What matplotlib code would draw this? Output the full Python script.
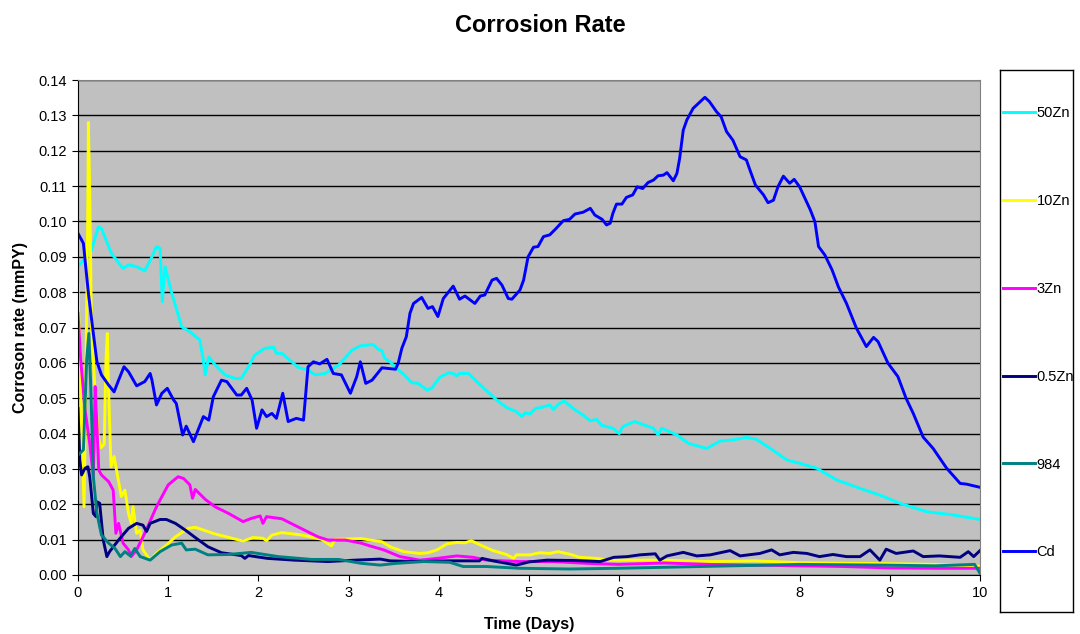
import numpy as np
import matplotlib
matplotlib.use("Agg")
import matplotlib.pyplot as plt

plt.rcParams['font.family'] = ['Liberation Sans', 'DejaVu Sans']

# ---- data (days, mmPY) ----
zn50_days = [0, 0.15, 0.225, 0.26, 0.37, 0.43, 0.50, 0.56, 0.65, 0.74, 0.82, 0.87, 0.91, 0.935, 0.965,
             1.04, 1.15, 1.24, 1.35, 1.39, 1.41, 1.45, 1.52, 1.63, 1.74, 1.81, 1.89, 1.96, 2.07, 2.17,
             2.20, 2.26, 2.37, 2.44, 2.55, 2.63, 2.74, 2.89, 3.04, 3.13, 3.27, 3.33, 3.37, 3.40, 3.46,
             3.53, 3.61, 3.70, 3.77, 3.87, 3.92, 4.01, 4.11, 4.16, 4.20, 4.23, 4.33, 4.42, 4.53, 4.64,
             4.75, 4.86, 4.92, 4.96, 5.01, 5.07, 5.14, 5.23, 5.27, 5.33, 5.39, 5.49, 5.60, 5.68, 5.75,
             5.80, 5.93, 6.0, 6.04, 6.17, 6.38, 6.43, 6.47, 6.64, 6.77, 6.97, 7.12, 7.26, 7.41, 7.52,
             7.71, 7.86, 8.0, 8.19, 8.41, 8.67, 8.89, 9.11, 9.41, 9.7, 10.0]
zn50_vals = [0.0872, 0.0919, 0.0985, 0.098, 0.091, 0.089, 0.0867, 0.0877, 0.0872, 0.086, 0.090, 0.0929,
             0.0924, 0.0773, 0.0872, 0.0797, 0.0702, 0.0688, 0.0665, 0.0608, 0.0566, 0.0617, 0.0594,
             0.0566, 0.0556, 0.0556, 0.0589, 0.0622, 0.0641, 0.0644, 0.0627, 0.0627, 0.0603, 0.0587,
             0.058, 0.0566, 0.057, 0.0594, 0.0636, 0.0648, 0.0652, 0.0638, 0.0634, 0.0613, 0.0603,
             0.0584, 0.0568, 0.0544, 0.0542, 0.0523, 0.0528, 0.0559, 0.0572, 0.057, 0.0563, 0.057,
             0.057, 0.0547, 0.0521, 0.0495, 0.0474, 0.0462, 0.0448, 0.0459, 0.0455, 0.0471, 0.0474,
             0.0481, 0.0468, 0.0484, 0.0492, 0.0471, 0.0452, 0.0436, 0.044, 0.0424, 0.0415, 0.040,
             0.042, 0.0434, 0.0415, 0.0396, 0.0415, 0.0396, 0.0372, 0.0358, 0.0379, 0.0382, 0.0389,
             0.0384, 0.0352, 0.0325, 0.0316, 0.0302, 0.0269, 0.0245, 0.0226, 0.0203, 0.0179, 0.0170,
             0.0157]

zn10_days = [0, 0.02, 0.04, 0.067, 0.085, 0.107, 0.115, 0.13, 0.15, 0.19, 0.225, 0.255, 0.29, 0.31,
             0.325, 0.34, 0.366, 0.40, 0.44, 0.48, 0.52, 0.56, 0.59, 0.61, 0.65, 0.69, 0.72, 0.80,
             0.85, 0.96, 1.08, 1.22, 1.30, 1.52, 1.83, 1.94, 2.05, 2.09, 2.15, 2.26, 2.48, 2.70, 2.81,
             2.85, 3.14, 3.24, 3.37, 3.46, 3.61, 3.79, 3.88, 3.98, 4.09, 4.20, 4.29, 4.36, 4.46, 4.60,
             4.75, 4.83, 4.86, 5.01, 5.12, 5.23, 5.32, 5.45, 5.56, 5.75, 5.90, 6.5, 7.0, 7.5, 8.0,
             8.5, 9.0, 9.5, 10.0]
zn10_vals = [0.0825, 0.0608, 0.042, 0.0193, 0.0514, 0.0985, 0.128, 0.108, 0.070, 0.0514, 0.039, 0.036,
             0.037, 0.0608, 0.0683, 0.0514, 0.0306, 0.0335, 0.0278, 0.0222, 0.024, 0.0174, 0.0146,
             0.0193, 0.0118, 0.0127, 0.0071, 0.0042, 0.0057, 0.008, 0.0108, 0.0132, 0.0135, 0.0116,
             0.0096, 0.0106, 0.0104, 0.0097, 0.0113, 0.012, 0.0113, 0.0101, 0.0082, 0.0101, 0.0103,
             0.0099, 0.0094, 0.008, 0.0066, 0.0061, 0.0063, 0.0071, 0.0088, 0.0092, 0.0091, 0.0097,
             0.0085, 0.0069, 0.0058, 0.0047, 0.0057, 0.0057, 0.0063, 0.0061, 0.0066, 0.0059, 0.005,
             0.0047, 0.0042, 0.0042, 0.0038, 0.0040, 0.0035, 0.0033, 0.0032, 0.003, 0.0025]

zn3_days = [0, 0.03, 0.078, 0.13, 0.17, 0.19, 0.21, 0.23, 0.26, 0.34, 0.39, 0.42, 0.45, 0.50, 0.56,
            0.59, 0.65, 0.74, 0.87, 1.00, 1.11, 1.17, 1.24, 1.27, 1.30, 1.41, 1.52, 1.67, 1.83, 1.92,
            2.02, 2.05, 2.09, 2.26, 2.40, 2.66, 2.77, 2.96, 3.14, 3.24, 3.39, 3.57, 3.79, 3.98, 4.20,
            4.38, 4.53, 4.90, 5.27, 5.64, 5.99, 6.5, 7.0, 7.5, 8.0, 8.5, 9.0, 9.5, 10.0]
zn3_vals = [0.074, 0.0608, 0.0467, 0.0372, 0.0278, 0.0533, 0.042, 0.0297, 0.0283, 0.0264, 0.024,
            0.0118, 0.0146, 0.009, 0.0071, 0.0052, 0.0071, 0.0118, 0.0193, 0.0255, 0.0278, 0.0273,
            0.0255, 0.0217, 0.0242, 0.0214, 0.0193, 0.0174, 0.0151, 0.016, 0.0167, 0.0146, 0.0165,
            0.0159, 0.0141, 0.0108, 0.0099, 0.0099, 0.009, 0.0082, 0.0071, 0.0052, 0.0042, 0.0047,
            0.0054, 0.005, 0.0042, 0.0038, 0.0038, 0.0033, 0.0030, 0.0034, 0.0030, 0.0028, 0.0026,
            0.0024, 0.0020, 0.0019, 0.0019]

zn05_days = [0, 0.02, 0.04, 0.078, 0.11, 0.13, 0.17, 0.20, 0.21, 0.24, 0.28, 0.32, 0.35, 0.45, 0.56,
             0.65, 0.72, 0.76, 0.80, 0.91, 0.98, 1.08, 1.19, 1.30, 1.44, 1.59, 1.81, 1.85, 1.89, 2.1,
             2.4, 2.77, 3.07, 3.35, 3.46, 3.8, 4.1, 4.45, 4.48, 4.6, 4.86, 5.0, 5.2, 5.5, 5.79, 5.94,
             6.09, 6.23, 6.40, 6.45, 6.53, 6.71, 6.86, 7.01, 7.23, 7.34, 7.56, 7.69, 7.78, 7.93, 8.08,
             8.22, 8.37, 8.52, 8.67, 8.78, 8.89, 8.96, 9.07, 9.26, 9.37, 9.55, 9.78, 9.87, 9.93, 10.0]
zn05_vals = [0.0471, 0.0325, 0.0283, 0.0302, 0.0306, 0.0278, 0.0174, 0.0165, 0.0207, 0.0203, 0.0099,
             0.0052, 0.0066, 0.0099, 0.0132, 0.0146, 0.0141, 0.0123, 0.0146, 0.0157, 0.0157, 0.0146,
             0.0127, 0.0106, 0.008, 0.0063, 0.0055, 0.0047, 0.0055, 0.0047, 0.0042, 0.0038, 0.0042,
             0.0045, 0.004, 0.0038, 0.0040, 0.0040, 0.0047, 0.0040, 0.0028, 0.0037, 0.0042, 0.0041,
             0.0038, 0.005, 0.0052, 0.0057, 0.006, 0.0042, 0.0054, 0.0064, 0.0054, 0.0057, 0.0069,
             0.0054, 0.0061, 0.0071, 0.0057, 0.0064, 0.0061, 0.0052, 0.0058, 0.0052, 0.0052, 0.0071,
             0.0042, 0.0073, 0.0061, 0.0068, 0.0052, 0.0054, 0.005, 0.0066, 0.0052, 0.0069]

a984_days = [0, 0.06, 0.096, 0.12, 0.144, 0.17, 0.21, 0.26, 0.34, 0.41, 0.47, 0.52, 0.58, 0.63, 0.69,
             0.80, 0.91, 1.04, 1.15, 1.20, 1.30, 1.44, 1.67, 1.92, 2.22, 2.59, 2.89, 3.14, 3.35, 3.53,
             3.83, 4.12, 4.27, 4.53, 4.90, 5.45, 5.99, 6.9, 8.0, 8.93, 9.5, 9.94, 10.0]
a984_vals = [0.0339, 0.0354, 0.0608, 0.0683, 0.0514, 0.0278, 0.0174, 0.0113, 0.009, 0.0075, 0.0052,
             0.0066, 0.0054, 0.0075, 0.0052, 0.0042, 0.0066, 0.0085, 0.009, 0.0071, 0.0073, 0.0057,
             0.0058, 0.0064, 0.0052, 0.0044, 0.0044, 0.0033, 0.0028, 0.0033, 0.0038, 0.0036, 0.0024,
             0.0024, 0.0019, 0.0017, 0.0019, 0.0024, 0.003, 0.0028, 0.0026, 0.003, 0.0005]

cd_days = [0, 0.06, 0.115, 0.17, 0.21, 0.26, 0.34, 0.40, 0.45, 0.51, 0.56, 0.65, 0.74, 0.80, 0.82, 0.87,
           0.93, 0.99, 1.06, 1.09, 1.16, 1.20, 1.28, 1.39, 1.45, 1.50, 1.59, 1.65, 1.76, 1.81, 1.87,
           1.93, 1.98, 2.04, 2.09, 2.15, 2.20, 2.27, 2.33, 2.42, 2.50, 2.55, 2.61, 2.68, 2.76, 2.83,
           2.92, 3.02, 3.09, 3.13, 3.19, 3.26, 3.37, 3.52, 3.55, 3.59, 3.64, 3.68, 3.72, 3.81, 3.88,
           3.93, 3.99, 4.05, 4.16, 4.23, 4.29, 4.40, 4.46, 4.51, 4.59, 4.64, 4.70, 4.77, 4.81, 4.90,
           4.94, 4.99, 5.05, 5.10, 5.16, 5.23, 5.30, 5.38, 5.45, 5.51, 5.60, 5.68, 5.73, 5.81, 5.86,
           5.90, 5.93, 5.97, 6.03, 6.08, 6.15, 6.20, 6.26, 6.32, 6.38, 6.43, 6.49, 6.53, 6.60, 6.64,
           6.67, 6.71, 6.75, 6.82, 6.90, 6.95, 7.00, 7.08, 7.13, 7.19, 7.26, 7.34, 7.41, 7.45, 7.51,
           7.60, 7.65, 7.71, 7.76, 7.82, 7.89, 7.94, 8.00, 8.12, 8.17, 8.21, 8.28, 8.36, 8.43, 8.52,
           8.63, 8.74, 8.82, 8.87, 8.98, 9.09, 9.18, 9.26, 9.37, 9.48, 9.63, 9.78, 9.85, 10.0]
cd_vals = [0.0966, 0.0938, 0.0797, 0.0683, 0.0603, 0.0566, 0.0537, 0.0518, 0.0551, 0.0589, 0.0575,
           0.0535, 0.0547, 0.057, 0.0551, 0.0481, 0.0514, 0.0528, 0.0495, 0.0485, 0.0396, 0.0421,
           0.0377, 0.0448, 0.0438, 0.0504, 0.0551, 0.0547, 0.0509, 0.0509, 0.0528, 0.0495, 0.0415,
           0.0467, 0.0448, 0.0457, 0.0443, 0.0514, 0.0434, 0.0443, 0.0438, 0.0589, 0.0603, 0.0597,
           0.061, 0.057, 0.0566, 0.0514, 0.0561, 0.0603, 0.0542, 0.0551, 0.0586, 0.0582, 0.0599,
           0.0641, 0.0674, 0.074, 0.0768, 0.0785, 0.0754, 0.0759, 0.0731, 0.0782, 0.0817, 0.078,
           0.0789, 0.0768, 0.0789, 0.0792, 0.0834, 0.0839, 0.082, 0.0782, 0.078, 0.0806, 0.0834,
           0.09, 0.0927, 0.0929, 0.0957, 0.0962, 0.098, 0.1002, 0.1006, 0.1021, 0.1026, 0.1037,
           0.1018, 0.1006, 0.099, 0.0995, 0.1023, 0.1049, 0.1049, 0.1068, 0.1075, 0.1098, 0.1093,
           0.111, 0.1117, 0.1129, 0.1131, 0.1138, 0.1115, 0.1136, 0.1178, 0.1258, 0.1287, 0.132,
           0.1339, 0.1351, 0.1339, 0.131, 0.1296, 0.1254, 0.123, 0.1183, 0.1174, 0.1145, 0.1103,
           0.1075, 0.1053, 0.106, 0.1098, 0.1128, 0.1108, 0.1119, 0.1098, 0.1032, 0.0999, 0.0929,
           0.0905, 0.0863, 0.0815, 0.0768, 0.0698, 0.0646, 0.0672, 0.066, 0.0599, 0.0561, 0.05,
           0.0457, 0.039, 0.0358, 0.0302, 0.0259, 0.0257, 0.0248]

series = [
    ("50Zn", zn50_days, zn50_vals, "#00FFFF"),
    ("10Zn", zn10_days, zn10_vals, "#FFFF00"),
    ("3Zn", zn3_days, zn3_vals, "#FF00FF"),
    ("0.5Zn", zn05_days, zn05_vals, "#000080"),
    ("984", a984_days, a984_vals, "#008080"),
    ("Cd", cd_days, cd_vals, "#0000FF"),
]

fig = plt.figure(figsize=(10.8, 6.34), dpi=100)
ax = fig.add_axes([78 / 1080, 1 - 575 / 634, 902 / 1080, 495 / 634])
ax.set_facecolor("#C0C0C0")

handles = []
for name, d, v, c in series:
    h, = ax.plot(d, v, color=c, lw=2.1, label=name, solid_joinstyle="round")
    handles.append(h)

ax.set_xlim(0, 10)
ax.set_ylim(0, 0.14)
ax.set_xticks(np.arange(0, 11, 1))
ax.set_yticks(np.arange(0, 0.141, 0.01))
ax.yaxis.set_major_formatter(matplotlib.ticker.FormatStrFormatter("%.2f"))
ax.grid(axis="y", color="black", lw=1)
ax.set_axisbelow(True)
ax.tick_params(direction="out", length=4, labelsize=10.5, color="black", pad=4)
for s in ["top", "right"]:
    ax.spines[s].set_color("#808080")
for s in ["left", "bottom"]:
    ax.spines[s].set_color("black")

ax.set_xlabel("Time (Days)", fontsize=11.5, fontweight="bold", labelpad=12)
ax.set_ylabel("Corroson rate (mmPY)", fontsize=11.5, fontweight="bold", labelpad=7)
fig.suptitle("Corrosion Rate", fontsize=17, fontweight="bold", y=0.978, x=0.5)

# legend box on the right
lax = fig.add_axes([1000 / 1080, 1 - 612 / 634, 73 / 1080, 542 / 634])
lax.set_xticks([])
lax.set_yticks([])
for s in lax.spines.values():
    s.set_color("black")
    s.set_linewidth(1)
lax.legend(handles=handles, loc="center left", bbox_to_anchor=(0.0, 0.515), frameon=False,
           fontsize=10.5, labelspacing=5.06, handlelength=2.2, handletextpad=0.1, borderpad=0.1,
           borderaxespad=0.1)

fig.savefig("out.png", dpi=100)
